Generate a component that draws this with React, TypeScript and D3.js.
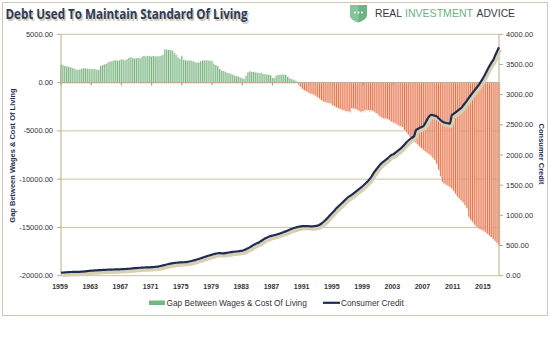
import React from "react";
import * as d3 from "d3";

// quarterly, 1959Q1 .. 2017Q1
const startYear = 1959;

// gap between wages & cost of living (left axis)
const gapValues = [
  1850, 1800, 1720, 1660, // 1959
  1620, 1580, 1500, 1420,
  1320, 1300, 1350, 1420,
  1480, 1450, 1420, 1400,
  1380, 1400, 1380, 1320, // 1963
  1300, 1720, 1800, 1880,
  1930, 2100, 2170, 2200,
  2280, 2300, 2250, 2280,
  2400, 2350, 2300, 2420, // 1967
  2550, 2600, 2520, 2480,
  2500, 2550, 2500, 2700,
  2750, 2700, 2760, 2720,
  2700, 2750, 2700, 2720, // 1971
  2700, 2780, 2870, 3450,
  3400, 3380, 3350, 3310,
  3050, 2850, 2600, 2450,
  2760, 2350, 2300, 2250, // 1975
  2280, 2250, 2200, 2100,
  2050, 2070, 2200, 2280,
  2280, 2300, 2280, 2250,
  2200, 1900, 1800, 1700, // 1979
  1400, 1250, 1200, 1100,
  1000, 950, 900, 800,
  700, 650, 600, 500,
  450, 350, 700, 1050, // 1983
  1150, 1100, 1100, 1050,
  1000, 950, 1000, 900,
  850, 820, 800, 750,
  480, 450, 700, 780, // 1987
  800, 820, 800, 780,
  600, 450, 350, 300,
  200, 100, -250, -450,
  -650, -800, -900, -1000, // 1991
  -1100, -1150, -1250, -1350,
  -1500, -1650, -1800, -1950,
  -2000, -2050, -2100, -2150,
  -2350, -2450, -2550, -2650, // 1995
  -2700, -2800, -2850, -2950,
  -2950, -3000, -2650, -2650,
  -2700, -2800, -2900, -3000,
  -2950, -2850, -2800, -2850, // 1999
  -2850, -2900, -3000, -3150,
  -3300, -3500, -3600, -3700,
  -3700, -3750, -3850, -4050,
  -4100, -4200, -4300, -4450, // 2003
  -4500, -4600, -4900, -5150,
  -5400, -5650, -5850, -6050,
  -6200, -6400, -6600, -6800,
  -6950, -7100, -7250, -7400, // 2007
  -7550, -7800, -8000, -8400,
  -9000, -9700, -10300, -10450,
  -10550, -10650, -10800, -10950,
  -11200, -11500, -11800, -12000, // 2011
  -12200, -12400, -12700, -13000,
  -13900, -14200, -14400, -14700,
  -14900, -15050, -15150, -15250,
  -15350, -15500, -15650, -15850, // 2015
  -16000, -16200, -16400, -16600,
  -16800,
];

// consumer credit (right axis)
const creditValues = [
  50, 52, 55, 57, // 1959
  59, 61, 62, 63,
  63, 64, 65, 67,
  69, 72, 76, 80,
  83, 85, 87, 89, // 1963
  91, 93, 95, 96,
  98, 100, 101, 102,
  103, 104, 105, 106,
  108, 110, 111, 113, // 1967
  115, 118, 121, 124,
  127, 130, 132, 134,
  136, 137, 138, 139,
  141, 144, 147, 150, // 1971
  156, 163, 170, 178,
  186, 194, 200, 205,
  210, 215, 218, 220,
  221, 223, 226, 230, // 1975
  236, 243, 251, 259,
  268, 278, 289, 300,
  310, 320, 330, 340,
  350, 358, 366, 372, // 1979
  375, 372, 370, 374,
  380, 385, 390, 395,
  398, 401, 405, 410,
  414, 425, 440, 455, // 1983
  470, 490, 510, 527,
  540, 555, 575, 595,
  615, 630, 645, 655,
  664, 672, 680, 690, // 1987
  700, 712, 725, 735,
  748, 762, 775, 785,
  795, 805, 812, 818,
  822, 823, 822, 820, // 1991
  818, 817, 820, 825,
  830, 845, 865, 890,
  920, 950, 985, 1020,
  1050, 1085, 1120, 1150, // 1995
  1180, 1210, 1240, 1270,
  1300, 1320, 1340, 1365,
  1390, 1415, 1440, 1465,
  1490, 1520, 1550, 1580, // 1999
  1620, 1670, 1720, 1760,
  1800, 1840, 1870, 1895,
  1920, 1945, 1975, 2000,
  2010, 2035, 2060, 2085, // 2003
  2110, 2140, 2175, 2210,
  2240, 2265, 2290, 2310,
  2410, 2430, 2450, 2465,
  2480, 2530, 2590, 2640, // 2007
  2665, 2660, 2650, 2640,
  2610, 2580, 2555, 2540,
  2530, 2525, 2520, 2660,
  2680, 2705, 2730, 2755, // 2011
  2780, 2820, 2860, 2900,
  2945, 2990, 3030, 3070,
  3110, 3150, 3195, 3245,
  3300, 3360, 3420, 3480, // 2015
  3530, 3580, 3650, 3720,
  3785,
];

const xTickLabels = ["1959", "1963", "1967", "1971", "1975", "1979", "1983", "1987", "1991", "1995", "1999", "2003", "2007", "2011", "2015"];
const leftTicks = [5000, 0, -5000, -10000, -15000, -20000];
const rightTicks = [0, 500, 1000, 1500, 2000, 2500, 3000, 3500, 4000];

const W = 550;
const H = 354;
const left = 61, right = 499, top = 34.3, bottom = 275.7;
const font = "'Liberation Sans', Arial, sans-serif";

export default function App() {
  const quarters = gapValues.map((_, i) => `${startYear + Math.floor(i / 4)}Q${(i % 4) + 1}`);
  const x = d3.scalePoint<string>().domain(quarters).range([left, right]);
  const yL = d3.scaleLinear().domain([-20000, 5000]).range([bottom, top]);
  const yR = d3.scaleLinear().domain([0, 4000]).range([bottom, top]);

  const line = d3.line<number>()
    .x((d, i) => x(quarters[i])!)
    .y(d => yR(d))
    .curve(d3.curveMonotoneX);
  const path = line(creditValues) || "";
  const y0 = yL(0);

  return (
    <svg width={W} height={H} style={{position: "absolute", left: 0, top: 0, background: "#fff"}} fontFamily={font}>
      <rect x={2.5} y={2.5} width={545} height={313} fill="#fff" stroke="#cfc8b4" />

      {/* title */}
      <text x={7} y={20.5} fontSize={15} fontWeight="bold" fill="#d3cbb2" textLength={242} lengthAdjust="spacingAndGlyphs" fontFamily="'Open Sans', sans-serif">Debt Used To Maintain Standard Of Living</text>
      <text x={5.5} y={19} fontSize={15} fontWeight="bold" fill="#2c3a5e" textLength={242} lengthAdjust="spacingAndGlyphs" fontFamily="'Open Sans', sans-serif">Debt Used To Maintain Standard Of Living</text>

      {/* logo */}
      <g>
        <path d="M350,5 L367,5 L367,15 Q367,20 358.5,22.5 Q350,20 350,15 Z" fill="#6cb482" />
        <path d="M350,5 L358.5,5 L358.5,22.5 Q350,20 350,15 Z" fill="#86c598" />
        {[355, 358.5, 362].map(cx => <circle key={cx} cx={cx} cy={12.5} r={1} fill="#fff" />)}
        <text x={375} y={17} fontSize={11.5} textLength={27} lengthAdjust="spacingAndGlyphs" fill="#3a3a3a">REAL</text>
        <text x={405} y={17} fontSize={11.5} textLength={68} lengthAdjust="spacingAndGlyphs" fill="#6db37f">INVESTMENT</text>
        <text x={476.5} y={17} fontSize={11.5} textLength={38.5} lengthAdjust="spacingAndGlyphs" fill="#3a3a3a">ADVICE</text>
      </g>

      {/* gridlines */}
      {leftTicks.map(t => (
        <line key={t} x1={left} x2={right} y1={yL(t)} y2={yL(t)} stroke="#cbc2a4" strokeWidth={1} />
      ))}

      {/* bars */}
      {gapValues.map((v, i) => {
        const cx = x(quarters[i])!;
        const yt = yL(Math.max(v, 0));
        const yb = yL(Math.min(v, 0));
        const pos = v >= 0;
        return (
          <g key={i}>
            <rect x={cx + 0.4} y={yt + (pos ? -0.5 : 1.5)} width={0.9} height={yb - yt + (pos ? 0.5 : 0)} fill={pos ? "#dadcc8" : "#f2cdb4"} />
            <rect x={cx - 0.6} y={yt} width={1} height={yb - yt} fill={pos ? "#72b884" : "#e8704c"} />
          </g>
        );
      })}

      {/* zero axis + ticks */}
      <line x1={left} x2={right} y1={y0} y2={y0} stroke="#bcb08f" strokeWidth={1.2} />
      {xTickLabels.map((lab, k) => {
        const xx = x(quarters[k * 16])!;
        return <line key={lab} x1={xx} x2={xx} y1={y0} y2={y0 + 3} stroke="#a89c7c" />;
      })}

      {/* axes */}
      <line x1={left} x2={left} y1={top} y2={bottom} stroke="#b8ad8e" />
      <line x1={right} x2={right} y1={top} y2={bottom} stroke="#b8ad8e" />
      {leftTicks.map(t => (
        <g key={t}>
          <line x1={left - 4} x2={left} y1={yL(t)} y2={yL(t)} stroke="#b8ad8e" />
          <text x={53} y={yL(t)} dy="0.35em" textAnchor="end" fontSize={7.5} fill="#333">{t.toFixed(2)}</text>
        </g>
      ))}
      {rightTicks.map(t => (
        <g key={t}>
          <line x1={right} x2={right + 4} y1={yR(t)} y2={yR(t)} stroke="#b8ad8e" />
          <text x={506} y={yR(t)} dy="0.35em" fontSize={7.5} fill="#333">{t.toFixed(2)}</text>
        </g>
      ))}

      {/* x labels */}
      {xTickLabels.map((lab, k) => (
        <text key={lab} x={x(quarters[k * 16])! - 1} y={288.5} textAnchor="middle" fontSize={7} fontWeight="bold" fill="#333">{lab}</text>
      ))}

      {/* consumer credit line */}
      <path d={path} transform="translate(1.5,2.5)" fill="none" stroke="#d8d0b2" strokeWidth={3.5} strokeLinejoin="round" />
      <path d={path} fill="none" stroke="#1f2d52" strokeWidth={2.2} strokeLinejoin="round" />

      {/* axis titles */}
      <text transform="translate(14.5,155.5) rotate(-90)" textAnchor="middle" fontSize={7.5} fontWeight="bold" fill="#1f2d52">Gap Between Wages &amp; Cost Of Living</text>
      <text transform="translate(538.5,154) rotate(90)" textAnchor="middle" fontSize={7.5} fontWeight="bold" fill="#1f2d52">Consumer Credit</text>

      {/* legend */}
      <rect x={149} y={300.5} width={16} height={4.5} fill="#72b884" />
      <text x={166.5} y={305.5} fontSize={8.3} fill="#333">Gap Between Wages &amp; Cost Of Living</text>
      <line x1={323} x2={340} y1={302.8} y2={302.8} stroke="#1f2d52" strokeWidth={2.2} />
      <text x={341} y={305.5} fontSize={8.3} fill="#333">Consumer Credit</text>
    </svg>
  );
}
